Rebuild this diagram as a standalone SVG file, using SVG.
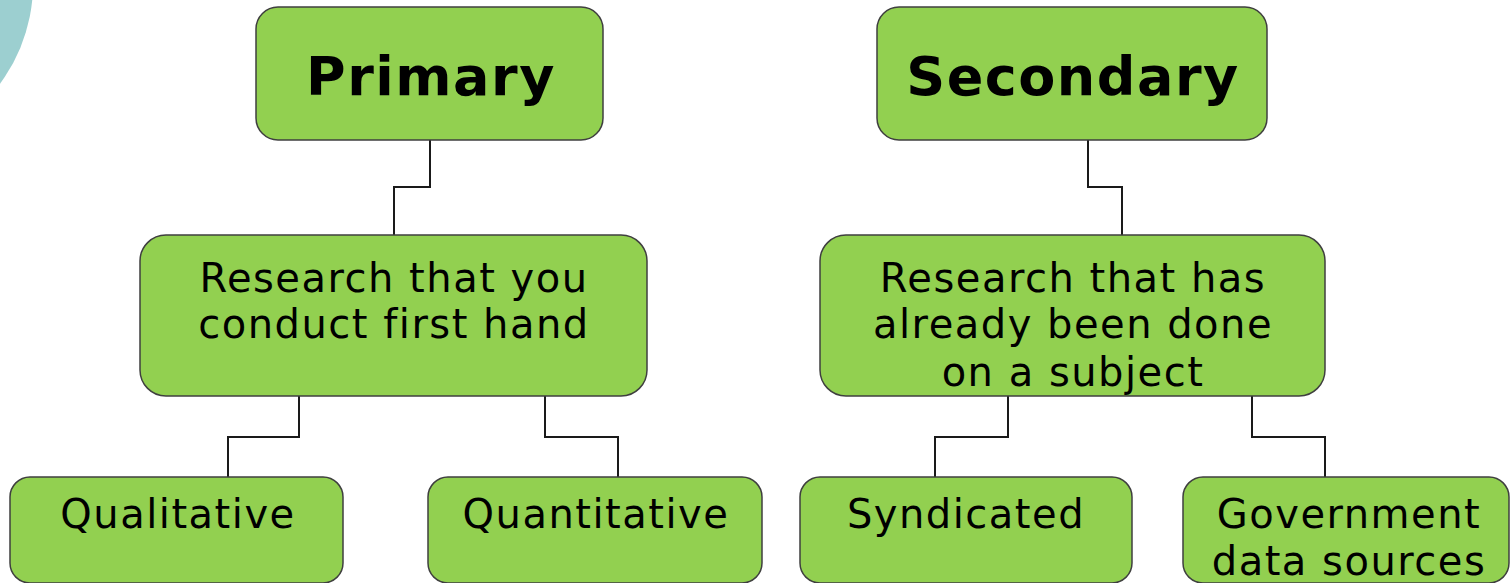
<svg xmlns="http://www.w3.org/2000/svg" width="1511" height="583" viewBox="0 0 1511 583">
<style>
.box{fill:#92D050;stroke:#3f3f3f;stroke-width:1.5}
.t{font-family:"DejaVu Sans",Verdana,sans-serif;font-size:40px;letter-spacing:1.5px;fill:#000;text-anchor:middle}
.h{font-family:"DejaVu Sans",Verdana,sans-serif;font-size:54px;font-weight:bold;letter-spacing:1.5px;fill:#000;text-anchor:middle}
.c{fill:none;stroke:#1a1a1a;stroke-width:2}
</style>
<rect width="1511" height="583" fill="#fff"/>
<circle cx="-134" cy="-16" r="167" fill="#9ccfd0"/>
<g id="connectors">
<polyline class="c" points="430,140 430,187 394,187 394,235"/>
<polyline class="c" points="1088,140 1088,187 1122,187 1122,235"/>
<polyline class="c" points="299,396 299,437 228,437 228,477"/>
<polyline class="c" points="545,396 545,437 618,437 618,477"/>
<polyline class="c" points="1008,396 1008,437 935,437 935,477"/>
<polyline class="c" points="1252,396 1252,437 1325,437 1325,477"/>
</g>
<g id="primary">
<rect class="box" x="256" y="7" width="347" height="133" rx="22"/>
<text class="h" x="431" y="95">Primary</text>
</g>
<g id="secondary">
<rect class="box" x="877" y="7" width="390" height="133" rx="22"/>
<text class="h" x="1073" y="95">Secondary</text>
</g>
<g id="primary-desc">
<rect class="box" x="140" y="235" width="507" height="161" rx="26"/>
<text class="t" x="394" y="292">Research that you</text>
<text class="t" x="394" y="338">conduct first hand</text>
</g>
<g id="secondary-desc">
<rect class="box" x="820" y="235" width="505" height="161" rx="26"/>
<text class="t" x="1073" y="292">Research that has</text>
<text class="t" x="1073" y="338">already been done</text>
<text class="t" x="1073" y="386">on a subject</text>
</g>
<g id="qualitative">
<rect class="box" x="10" y="477" width="333" height="106" rx="20"/>
<text class="t" x="178" y="528">Qualitative</text>
</g>
<g id="quantitative">
<rect class="box" x="428" y="477" width="334" height="106" rx="20"/>
<text class="t" x="596" y="528">Quantitative</text>
</g>
<g id="syndicated">
<rect class="box" x="800" y="477" width="332" height="106" rx="20"/>
<text class="t" x="966" y="528">Syndicated</text>
</g>
<g id="government">
<rect class="box" x="1183" y="477" width="326" height="106" rx="20"/>
<text class="t" x="1349" y="528">Government</text>
<text class="t" x="1349" y="575">data sources</text>
</g>
</svg>
